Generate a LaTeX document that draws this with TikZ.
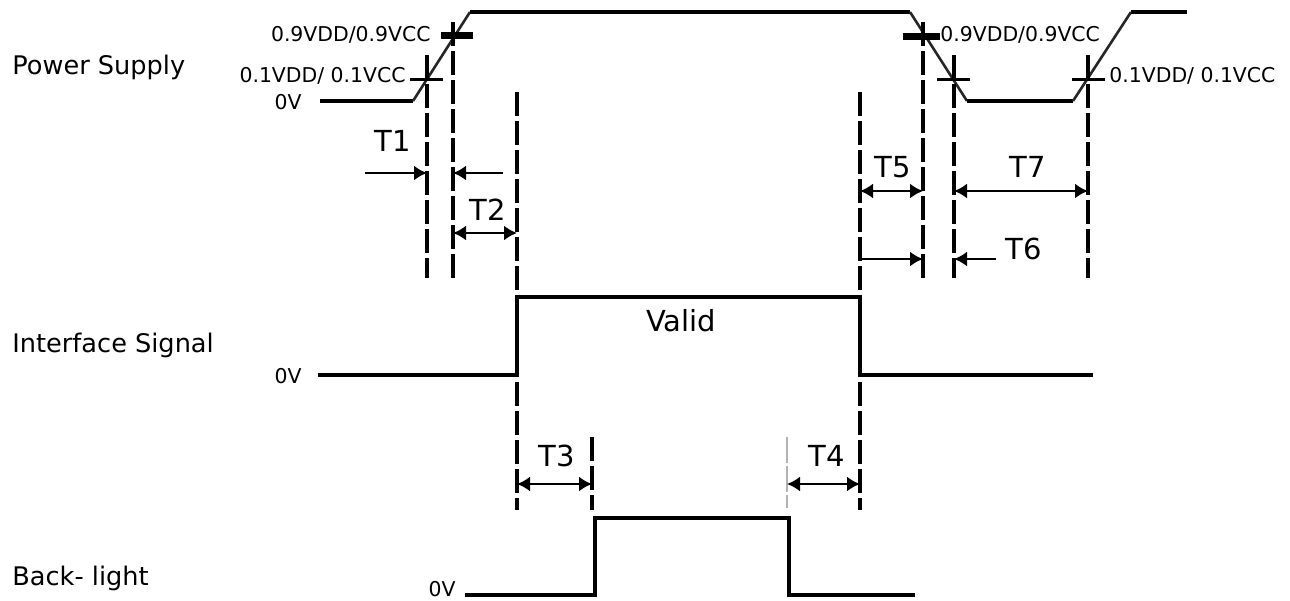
\documentclass[tikz,border=0pt]{standalone}
\usepackage{fontspec}
\setmainfont{DejaVu Sans}
\usetikzlibrary{arrows.meta}
\begin{document}
\begin{tikzpicture}[x=0.5pt,y=-0.5pt,
  sig/.style={line width=2pt, line join=miter},
  slopeline/.style={line width=1.3pt, black!85},
  guide/.style={line width=1.9pt, dash pattern=on 12pt off 2.5pt},
  faint/.style={line width=1.4pt, black!30, dash pattern=on 13pt off 1.5pt},
  thickbar/.style={line width=3.5pt},
  thinbar/.style={line width=1.5pt},
  dimline/.style={line width=1.1pt, {Latex[length=6.5pt,width=7.5pt]}-{Latex[length=6.5pt,width=7.5pt]}},
  oneway/.style={line width=1.1pt, -{Latex[length=6.5pt,width=7.5pt]}},
  side/.style={font=\fontsize{12.8pt}{14pt}\selectfont, anchor=west, inner sep=0pt},
  lvl/.style={font=\fontsize{10.2pt}{12pt}\selectfont, inner sep=0pt},
  tlab/.style={font=\fontsize{14.5pt}{16pt}\selectfont, inner sep=0pt}]
\useasboundingbox (0,0) rectangle (1290,600);

% side labels
\node[side] (lps) at (12,67) {Power Supply};
\node[side] (lif) at (12,345) {Interface Signal};
\node[side] (lbl) at (12,578) {Back- light};

% power supply waveform
\coordinate (p0) at (320,101);  \coordinate (p1) at (413,101);
\coordinate (p2) at (470,12);   \coordinate (p3) at (910,12);
\coordinate (p4) at (967,101);  \coordinate (p5) at (1073,101);
\coordinate (p6) at (1131,12);  \coordinate (p7) at (1187,12);
\draw[sig] (p0) -- (p1);
\draw[slopeline] (p1) -- (p2);
\draw[sig] (p2) -- (p3);
\draw[slopeline] (p3) -- (p4);
\draw[sig] (p4) -- (p5);
\draw[slopeline] (p5) -- (p6);
\draw[sig] (p6) -- (p7);

% level marks
\draw[thickbar] (441,35) -- (473,35);
\draw[thinbar] (410,79) -- (443,79);
\draw[thickbar] (903,36) -- (940,36);
\draw[thinbar] (937,79) -- (970,79);
\draw[thinbar] (1072,79) -- (1105,79);

\node[lvl, anchor=east] (v9l) at (431,35) {0.9VDD/0.9VCC};
\node[lvl, anchor=east] (v1l) at (406,76) {0.1VDD/ 0.1VCC};
\node[lvl, anchor=east] (v0p) at (302,102) {0V};
\node[lvl, anchor=west] (v9r) at (940,35) {0.9VDD/0.9VCC};
\node[lvl, anchor=west] (v1r) at (1109,76) {0.1VDD/ 0.1VCC};

% guide coordinates
\coordinate (a1) at (427,55);   \coordinate (a1b) at (427,278);
\coordinate (a2) at (453,22);   \coordinate (a2b) at (453,278);
\coordinate (a3) at (517,92);   \coordinate (a3b) at (517,510);
\coordinate (a4) at (860,92);   \coordinate (a4b) at (860,510);
\coordinate (a5) at (923,22);   \coordinate (a5b) at (923,278);
\coordinate (a6) at (954,55);   \coordinate (a6b) at (954,278);
\coordinate (a7) at (1088,55);  \coordinate (a7b) at (1088,278);
\coordinate (b1) at (592,437);  \coordinate (b1b) at (592,510);
\coordinate (b2) at (787,437);  \coordinate (b2b) at (787,508);

\draw[guide] (a1) -- (a1b);
\draw[guide] (a2) -- (a2b);
\draw[guide] (a3) -- (a3b);
\draw[guide] (a4) -- (a4b);
\draw[guide] (a5) -- (a5b);
\draw[guide] (a6) -- (a6b);
\draw[guide] (a7) -- (a7b);
\draw[guide] (b1) -- (b1b);
\draw[faint] (b2) -- (b2b);

% interface signal
\draw[sig] (318,375) -- (517,375) -- (517,297) -- (860,297) -- (860,375) -- (1093,375);
\node[lvl, anchor=east] (v0i) at (302,376) {0V};
\node[tlab] (valid) at (681,321) {Valid};

% back-light
\draw[sig] (465,595) -- (595,595) -- (595,518) -- (789,518) -- (789,595) -- (915,595);
\node[lvl, anchor=east] (v0b) at (456,589) {0V};

% timing arrows
\coordinate (t1s) at (365,173);  \coordinate (t1e) at (a1 |- t1s);
\coordinate (t1r) at (503,173);  \coordinate (t1f) at (a2 |- t1s);
\draw[oneway] (t1s) -- (t1e);
\draw[oneway] (t1r) -- (t1f);
\node[tlab] (T1) at (393,141) {T1};

\coordinate (t2s) at (a2 |- 0,233); \coordinate (t2e) at (a3 |- 0,233);
\draw[dimline] (t2s) -- (t2e);
\node[tlab] (T2) at (488,210) {T2};

\coordinate (t3s) at (a3 |- 0,484); \coordinate (t3e) at (b1 |- 0,484);
\draw[dimline] (t3s) -- (t3e);
\node[tlab] (T3) at (557,456) {T3};

\coordinate (t4s) at (b2 |- 0,484); \coordinate (t4e) at (a4 |- 0,484);
\draw[dimline] (t4s) -- (t4e);
\node[tlab] (T4) at (827,456) {T4};

\coordinate (t5s) at (a4 |- 0,191); \coordinate (t5e) at (a5 |- 0,191);
\draw[dimline] (t5s) -- (t5e);
\node[tlab] (T5) at (893,167) {T5};

\coordinate (t7s) at (a6 |- 0,191); \coordinate (t7e) at (a7 |- 0,191);
\draw[dimline] (t7s) -- (t7e);
\node[tlab] (T7) at (1028,167) {T7};

\coordinate (t6s) at (a4 |- 0,259); \coordinate (t6e) at (a5 |- 0,259);
\coordinate (t6r) at (996,259);     \coordinate (t6f) at (a6 |- 0,259);
\draw[oneway] (t6s) -- (t6e);
\draw[oneway] (t6r) -- (t6f);
\node[tlab] (T6) at (1024,249) {T6};
\end{tikzpicture}
\end{document}
